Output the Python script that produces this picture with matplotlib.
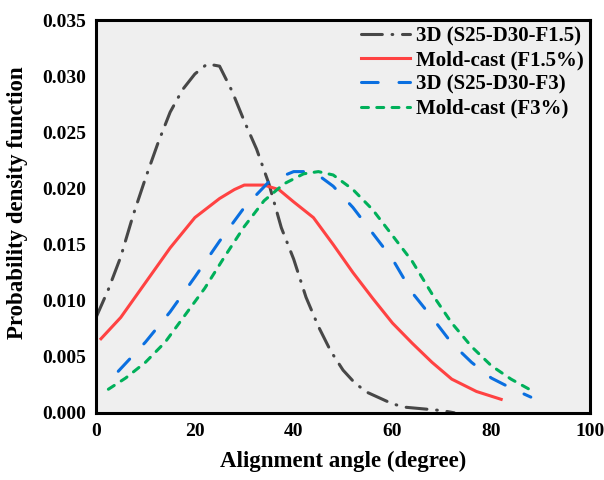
import matplotlib
matplotlib.use("Agg")
import matplotlib.pyplot as plt

plt.rcParams['font.family'] = ['Liberation Serif', 'DejaVu Serif']
plt.rcParams['font.weight'] = 'bold'
plt.rcParams['lines.scale_dashes'] = False

# 3D (S25-D30-F1.5)
x_3d15 = [0, 2.5, 5, 7.5, 10, 12.5, 15, 17.5, 20, 22.5, 25, 27.5, 30, 32.5, 35,
          37.5, 40, 42.5, 45, 47.5, 50, 52.5, 55, 57.5, 60, 62.5, 65, 67.5, 70, 72.5]
y_3d15 = [0.0085, 0.0110, 0.0139, 0.0176, 0.0209, 0.0240, 0.0268, 0.0288, 0.0302, 0.0311,
          0.0309, 0.0287, 0.0260, 0.0235, 0.0204, 0.0165, 0.0137, 0.0103, 0.0077, 0.0055,
          0.0038, 0.0026, 0.0018, 0.0013, 0.0008, 0.0005, 0.0004, 0.0003, 0.0002, 0.0000]

# Mold-cast (F1.5%)
x_mc15 = [1, 5, 10, 15, 20, 25, 28, 30, 34, 37, 40, 44, 48, 52, 56, 60, 64, 68, 72, 77, 82]
y_mc15 = [0.0066, 0.0085, 0.0116, 0.0147, 0.0174, 0.0191, 0.0199, 0.0203, 0.0203, 0.0199,
          0.0188, 0.0174, 0.0150, 0.0125, 0.0102, 0.0080, 0.0062, 0.0045, 0.0030, 0.0019, 0.0012]

# 3D (S25-D30-F3)
x_3d3 = [4.5, 10, 15, 20, 25, 30, 35, 40, 44, 48, 52, 56, 60, 64, 68, 72, 76, 80, 84, 88]
y_3d3 = [0.0037, 0.0063, 0.0090, 0.0121, 0.0153, 0.0183, 0.0206, 0.0215, 0.0215, 0.0202,
         0.0183, 0.0160, 0.0137, 0.0107, 0.0085, 0.0062, 0.0045, 0.0031, 0.0022, 0.0014]

# Mold-cast (F3%)
x_mc3 = [2.5, 6, 10, 14, 18, 22, 26, 30, 34, 38, 42, 45, 48, 52, 56, 60, 64, 68, 72, 76,
         80, 84, 88.5]
y_mc3 = [0.0021, 0.0031, 0.0045, 0.0063, 0.0087, 0.0111, 0.0139, 0.0166, 0.0189, 0.0204,
         0.0213, 0.0215, 0.0212, 0.0199, 0.0181, 0.0158, 0.0135, 0.0106, 0.0080, 0.0059,
         0.0042, 0.0030, 0.0019]

fig = plt.figure(figsize=(6.04, 4.8), dpi=100)
ax = fig.add_axes([0.159, 0.140, 0.818, 0.818])
ax.set_facecolor('#efefef')

lw = 2.2
l1, = ax.plot(x_3d15, y_3d15, color='#474747', lw=lw, label='3D (S25-D30-F1.5)',
              dash_capstyle='round')
l1.set_dashes((15, 7, 0.5, 7))
l2, = ax.plot(x_mc15, y_mc15, color='#ff4242', lw=lw, label='Mold-cast (F1.5%)')
l3, = ax.plot(x_3d3, y_3d3, color='#0a6fe0', lw=lw, label='3D (S25-D30-F3)',
              dash_capstyle='round')
l3.set_dashes((12, 15))
l4, = ax.plot(x_mc3, y_mc3, color='#00b05a', lw=lw, label='Mold-cast (F3%)',
              dash_capstyle='round')
l4.set_dashes((5, 6))

ax.set_xlim(0, 100)
ax.set_ylim(0, 0.035)
ax.set_xticks([0, 20, 40, 60, 80, 100])
ax.set_yticks([0.000, 0.005, 0.010, 0.015, 0.020, 0.025, 0.030, 0.035])
ax.set_yticklabels(['0.000', '0.005', '0.010', '0.015', '0.020', '0.025', '0.030', '0.035'])
ax.tick_params(length=0, labelsize=14, pad=7)
for s in ax.spines.values():
    s.set_linewidth(2.2)
    s.set_color('black')

ax.set_xlabel('Alignment angle (degree)', fontsize=16.5, fontweight='bold', labelpad=8)
ax.set_ylabel('Probability density function', fontsize=16.5, fontweight='bold')
ax.yaxis.set_label_coords(-0.137, 0.534)

ax.legend(loc='upper right', frameon=False, fontsize=15, handlelength=2.35,
          handletextpad=0.3, labelspacing=0.2, borderaxespad=0.0, borderpad=0.3)

fig.savefig('out.png', dpi=100)
